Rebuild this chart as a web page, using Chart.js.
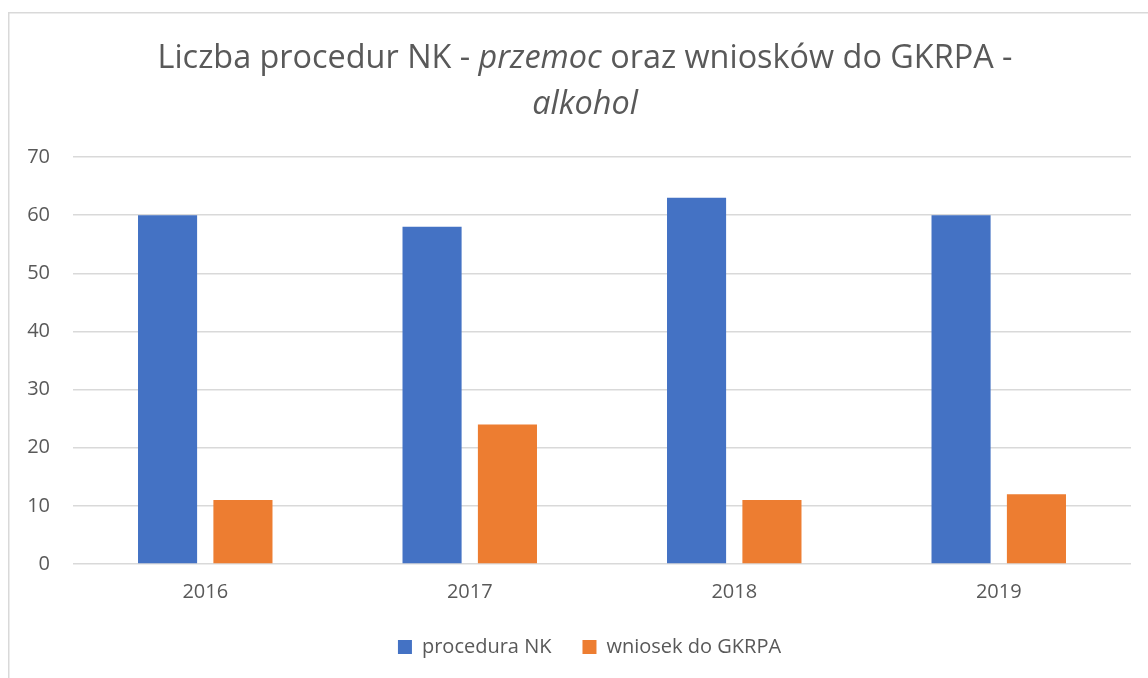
<!DOCTYPE html>
<html>
<head>
<meta charset="utf-8">
<script src="https://cdn.jsdelivr.net/npm/chart.js@4"></script>
<style>
  html, body { margin: 0; padding: 0; background: #fff; }
  #wrap { width: 1148px; height: 678px; }
</style>
</head>
<body>
<div id="wrap"><canvas id="nkChart" width="1148" height="678"></canvas></div>
<script>
const years = ["2016", "2017", "2018", "2019"];
const proceduraNK = [60, 58, 63, 60];
const wniosekGKRPA = [11, 24, 11, 12];
const yMax = 70;
const yStep = 10;

const seriesLabels = ["procedura NK", "wniosek do GKRPA"];
const titleLine1 = [
  { text: "Liczba procedur NK - ", italic: false },
  { text: "przemoc", italic: true },
  { text: " oraz wniosków do GKRPA -", italic: false },
];
const titleLine2 = [{ text: "alkohol", italic: true }];

const textGrey = "#595959";
const fontFamily = '"Open Sans", sans-serif';

// frame + two-line title with mixed italic parts
const frameAndTitle = {
  id: "frameAndTitle",
  afterLayout(chart) {
    // legend sits centred on the whole frame, not just the plot
    chart.legend.left += 24;
    chart.legend.right += 24;
  },
  beforeDraw(chart) {
    const ctx = chart.ctx;
    ctx.save();
    ctx.strokeStyle = "#d9d9d9";
    ctx.lineWidth = 1.5;
    ctx.beginPath();
    ctx.moveTo(8.75, 690);
    ctx.lineTo(8.75, 12.75);
    ctx.lineTo(1160, 12.75);
    ctx.stroke();
    ctx.restore();
  },
  afterDraw(chart) {
    const ctx = chart.ctx;
    const size = 32.4;
    const cx = 585;
    const drawLine = (parts, baseline) => {
      let total = 0;
      parts.forEach((p) => {
        ctx.font = (p.italic ? "italic " : "") + size + "px " + fontFamily;
        p.w = ctx.measureText(p.text).width;
        total += p.w;
      });
      let x = cx - total / 2;
      parts.forEach((p) => {
        ctx.font = (p.italic ? "italic " : "") + size + "px " + fontFamily;
        ctx.fillText(p.text, x, baseline);
        x += p.w;
      });
    };
    ctx.save();
    ctx.fillStyle = textGrey;
    ctx.textBaseline = "alphabetic";
    ctx.textAlign = "left";
    drawLine(titleLine1, 68);
    drawLine(titleLine2, 114);
    ctx.restore();
  },
};

const ctx = document.getElementById("nkChart").getContext("2d");
new Chart(ctx, {
  type: "bar",
  data: {
    labels: years,
    datasets: [
      {
        label: seriesLabels[0],
        data: proceduraNK,
        backgroundColor: "#4472C4",
        categoryPercentage: 0.57,
        barPercentage: 0.784,
      },
      {
        label: seriesLabels[1],
        data: wniosekGKRPA,
        backgroundColor: "#ED7D31",
        categoryPercentage: 0.57,
        barPercentage: 0.784,
      },
    ],
  },
  options: {
    responsive: false,
    animation: false,
    layout: {
      padding: { top: 157, left: 0, right: 17, bottom: 11 },
    },
    plugins: {
      title: { display: false },
      tooltip: { enabled: false },
      legend: {
        position: "bottom",
        labels: {
          color: textGrey,
          font: { family: fontFamily, size: 20 },
          boxWidth: 14,
          boxHeight: 14,
          padding: 31,
        },
      },
    },
    scales: {
      x: {
        grid: { display: false, drawTicks: false },
        border: { display: false },
        ticks: {
          color: textGrey,
          font: { family: fontFamily, size: 20 },
          padding: 16,
        },
        afterFit: (scale) => {
          scale.height = 42;
        },
      },
      y: {
        min: 0,
        max: yMax,
        ticks: {
          stepSize: yStep,
          color: textGrey,
          font: { family: fontFamily, size: 20 },
          padding: 23,
        },
        grid: { color: "#d9d9d9", lineWidth: 1.5, drawTicks: false },
        border: { display: false },
        afterFit: (scale) => {
          scale.width = 73;
        },
      },
    },
  },
  plugins: [frameAndTitle],
});
</script>
</body>
</html>
